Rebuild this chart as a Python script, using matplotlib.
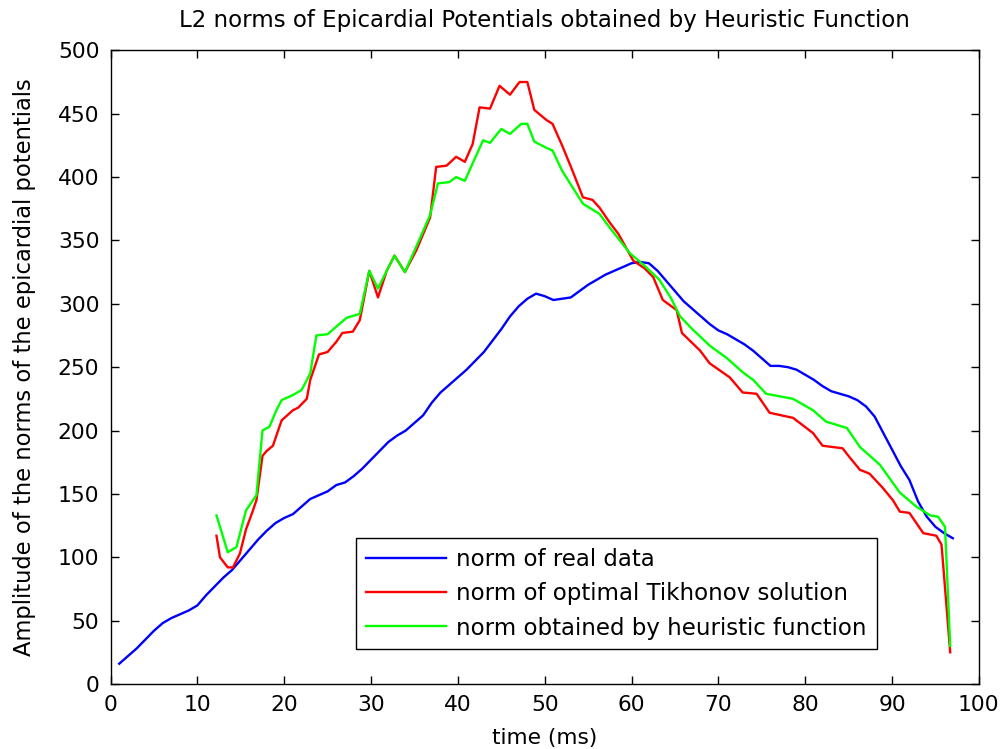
import matplotlib
matplotlib.use('Agg')
import matplotlib.pyplot as plt

plt.rcParams['font.family'] = ['DejaVu Sans']

# real data norm
t_real = [1, 2, 3, 4, 5, 6, 7, 8, 9, 10, 11, 12, 13, 14, 15, 16, 17, 18, 19, 20,
          21, 22, 23, 24, 25, 26, 27, 28, 29, 30, 31, 32, 33, 34, 35, 36, 37, 38, 39, 40,
          41, 42, 43, 44, 45, 46, 47, 48, 49, 50, 51, 52, 53, 54, 55, 56, 57, 58, 59, 60,
          61, 62, 63, 64, 65, 66, 67, 68, 69, 70, 71, 72, 73, 74, 75, 76, 77, 78, 79, 80,
          81, 82, 83, 84, 85, 86, 87, 88, 89, 90, 91, 92, 93, 94, 95, 96, 97]
real = [16, 22, 28, 35, 42, 48, 52, 55, 58, 62, 70, 77, 84, 90, 98, 106, 114, 121, 127, 131,
        134, 140, 146, 149, 152, 157, 159, 164, 170, 177, 184, 191, 196, 200, 206, 212, 222, 230, 236, 242,
        248, 255, 262, 271, 280, 290, 298, 304, 308, 306, 303, 304, 305, 310, 315, 319, 323, 326, 329, 332,
        333, 332, 326, 318, 310, 302, 296, 290, 284, 279, 276, 272, 268, 263, 257, 251, 251, 250, 248, 244,
        240, 235, 231, 229, 227, 224, 219, 211, 198, 185, 172, 161, 144, 132, 124, 119, 115]

# optimal Tikhonov solution
t_tik = [12.2, 12.6, 13.5, 14.1, 14.9, 15.6, 16.3, 16.8, 17.5, 18, 18.7, 19.7, 21, 21.6, 22.6, 23,
         24, 25, 26, 26.7, 27.9, 28.7, 29.8, 30.8, 31.8, 32.7, 33.9, 35.2, 36.8, 37.5, 38.7, 39.8,
         40.8, 41.7, 42.5, 43.7, 44.8, 46, 47.1, 48, 48.8, 50.2, 50.9, 52, 53.2, 54.4, 55.5, 56.3,
         57.5, 58.5, 60.2, 61.5, 62.5, 63.6, 65.2, 65.8, 67.9, 69, 71.3, 72.8, 74.4, 75.9, 78.6,
         80.9, 82, 84.3, 85.1, 86.3, 87.4, 88.9, 90.1, 90.9, 92, 93.6, 95.1, 95.7, 96.7]
tik = [117, 100, 92, 92, 103, 122, 135, 145, 180, 184, 188, 208, 216, 218, 225, 240,
       260, 262, 270, 277, 278, 287, 326, 305, 326, 338, 325, 342, 368, 408, 409, 416,
       412, 426, 455, 454, 472, 465, 475, 475, 453, 445, 442, 425, 405, 384, 382, 376,
       364, 355, 334, 328, 321, 303, 295, 277, 263, 253, 242, 230, 229, 214, 210,
       198, 188, 186, 179, 169, 166, 155, 145, 136, 135, 119, 117, 110, 25]

# heuristic function
t_heur = [12.2, 13.5, 14.5, 15.6, 16.8, 17.5, 18.3, 19.1, 19.7, 21, 22, 23, 23.7, 25, 26, 27.2,
          28.7, 29.8, 30.8, 31.8, 32.7, 33.9, 35.2, 36.8, 37.7, 39, 39.8, 40.8, 42.9, 43.7, 45,
          46, 47.3, 48, 48.8, 50.2, 50.9, 52, 53.2, 54.4, 55.1, 56.3, 57.5, 59.8, 61.5, 63.2,
          64.5, 65.6, 67, 69, 71, 72.8, 74, 75.5, 78.6, 80.9, 82.4, 84.8, 86.3, 88.6, 90.9,
          92.8, 94.4, 95.3, 96.1, 96.7]
heur = [133, 104, 108, 137, 149, 200, 203, 216, 224, 228, 232, 245, 275, 276, 282, 289,
        292, 326, 312, 326, 338, 325, 345, 370, 395, 396, 400, 397, 429, 427, 438,
        434, 442, 442, 428, 423, 421, 405, 392, 379, 376, 371, 360, 340, 330, 319,
        305, 290, 280, 267, 257, 246, 240, 229, 225, 216, 207, 202, 187, 173, 151,
        140, 133, 132, 124, 30]

fig = plt.figure(figsize=(10.05, 7.49), dpi=100)
ax = fig.add_axes([0.110, 0.0868, 0.864, 0.846])

ax.plot(t_real, real, color='#0000ff', linewidth=1.7, label='norm of real data')
ax.plot(t_tik, tik, color='#ff0000', linewidth=1.7, label='norm of optimal Tikhonov solution')
ax.plot(t_heur, heur, color='#00ff00', linewidth=1.7, label='norm obtained by heuristic function')

ax.set_xlim(0, 100)
ax.set_ylim(0, 500)
ax.set_xticks(range(0, 101, 10))
ax.set_yticks(range(0, 501, 50))
ax.tick_params(direction='in', top=True, right=True, length=6, width=1, labelsize=15.7, pad=8)
for s in ax.spines.values():
    s.set_linewidth(1)

ax.set_title('L2 norms of Epicardial Potentials obtained by Heuristic Function', fontsize=16.5, pad=17)
ax.set_xlabel('time (ms)', fontsize=15.7, labelpad=9)
ax.set_ylabel('Amplitude of the norms of the epicardial potentials', fontsize=16.3, labelpad=16)

leg = ax.legend(loc='lower left', bbox_to_anchor=(0.283, 0.055, 0.600, 0), mode='expand',
                borderaxespad=0, fontsize=16.5, fancybox=False, framealpha=1, edgecolor='black',
                handlelength=3.5, handletextpad=0.45, borderpad=0.42, labelspacing=0.5)
leg.get_frame().set_linewidth(1)

fig.savefig('out.png', dpi=100)
